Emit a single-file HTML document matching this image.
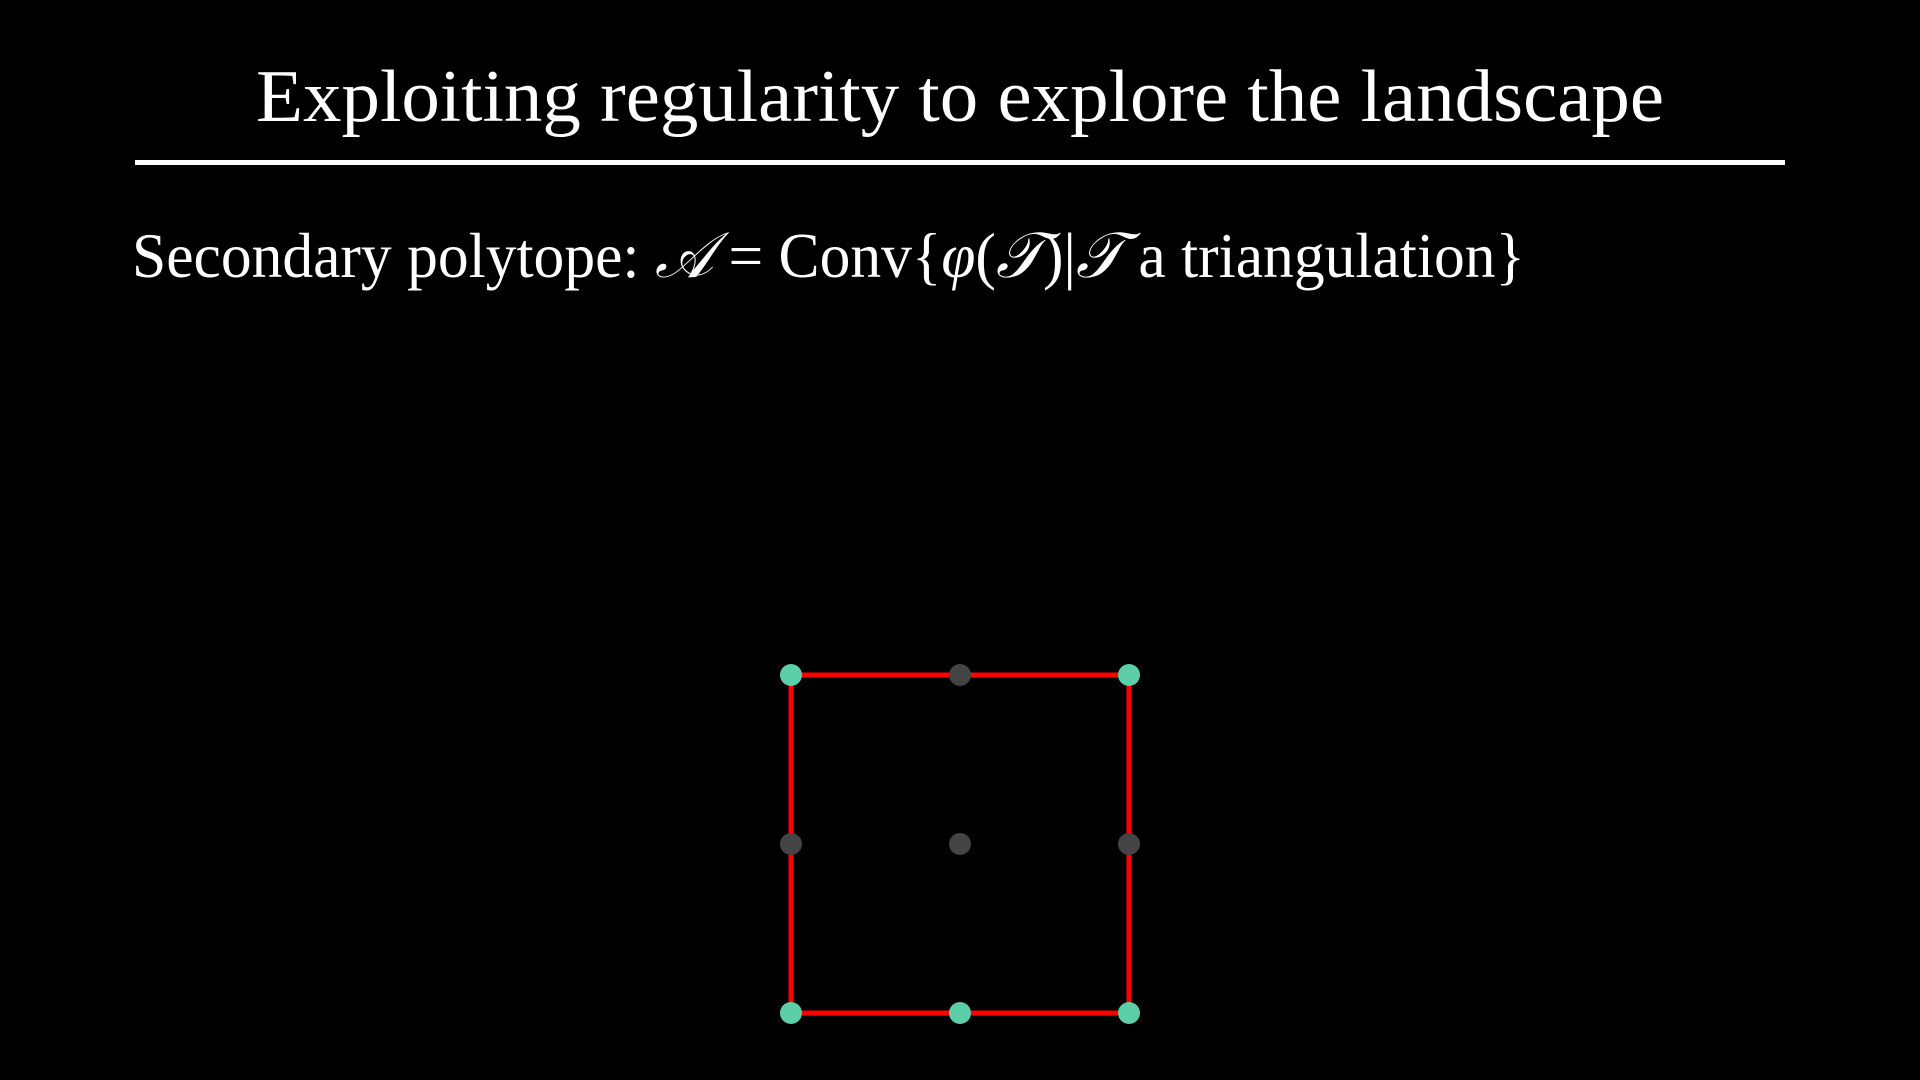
<!DOCTYPE html>
<html>
<head>
<meta charset="utf-8">
<style>
html,body{margin:0;padding:0;background:#000;}
body{width:1920px;height:1080px;overflow:hidden;}
svg{display:block;}
text{font-family:"Liberation Serif",serif;fill:#fff;}
</style>
</head>
<body>
<svg id="chart" width="1920" height="1080" viewBox="0 0 1920 1080">
  <text x="960" y="121" text-anchor="middle" font-size="74" textLength="1408" lengthAdjust="spacingAndGlyphs">Exploiting regularity to explore the landscape</text>
  <rect x="135" y="160" width="1650" height="5" fill="#fff"></rect>
  <text x="132" y="277" font-size="64" textLength="1393" lengthAdjust="spacingAndGlyphs">Secondary polytope: <tspan font-style="italic">𝒜</tspan> = Conv{<tspan font-style="italic">φ</tspan>(<tspan font-style="italic">𝒯</tspan>)|<tspan font-style="italic">𝒯</tspan> a triangulation}</text>
  <g id="plot"></g>
</svg>
<script>
// lattice points (grid coords) and whether each is used as a vertex
const pointX = [0, 1, 2, 0, 1, 2, 0, 1, 2];
const pointY = [2, 2, 2, 1, 1, 1, 0, 0, 0];
const pointUsed = [1, 0, 1, 0, 0, 0, 1, 1, 1];
// boundary polygon (indices into points)
const polygon = [0, 2, 8, 7, 6, 0];

const sx = v => 791 + v * 169;
const sy = v => 1013 - v * 169;
const g = document.getElementById('plot');
const NS = 'http://www.w3.org/2000/svg';

const pts = polygon.map(i => sx(pointX[i]) + ',' + sy(pointY[i])).join(' ');
const poly = document.createElementNS(NS, 'polyline');
poly.setAttribute('points', pts);
poly.setAttribute('fill', 'none');
poly.setAttribute('stroke', '#ff0000');
poly.setAttribute('stroke-width', '5');
poly.setAttribute('stroke-linejoin', 'round');


g.appendChild(poly);

for (let i = 0; i < pointX.length; i++) {
  const c = document.createElementNS(NS, 'circle');
  c.setAttribute('cx', sx(pointX[i]));
  c.setAttribute('cy', sy(pointY[i]));
  c.setAttribute('r', 11);
  c.setAttribute('fill', pointUsed[i] ? '#5ccfa9' : '#444444');
  
  
  g.appendChild(c);
}
</script>
</body>
</html>
